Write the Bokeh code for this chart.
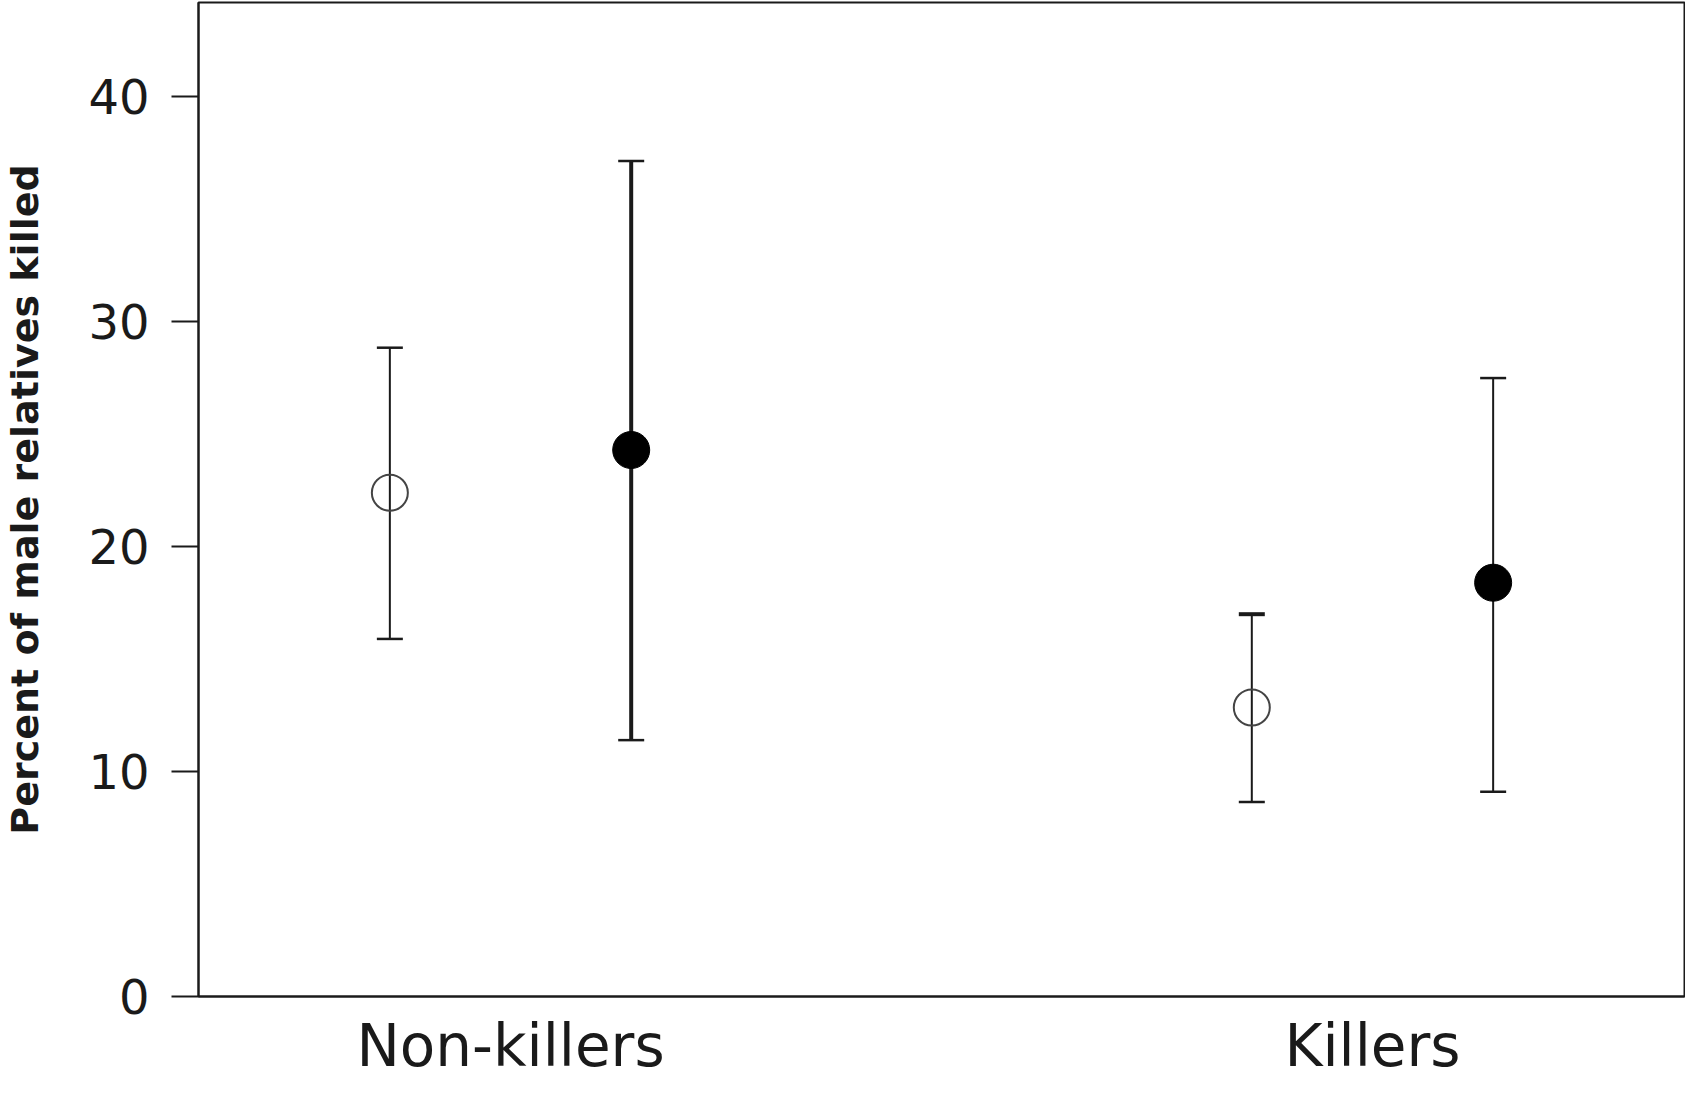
import numpy as np
from bokeh.plotting import figure
from bokeh.models import Range1d, FixedTicker, ColumnDataSource
from bokeh.embed import file_html
from bokeh.resources import INLINE

# ---- data ----
categories = ["Non-killers", "Killers"]
open_mean = [22.4, 12.85]
open_lower = [15.9, 8.65]
open_upper = [28.85, 17.0]
filled_mean = [24.3, 18.4]
filled_lower = [11.4, 9.1]
filled_upper = [37.15, 27.5]
y_ticks = [0, 10, 20, 30, 40]

# ---- styles ----
FONT = "DejaVu Sans"
INK = "#1a1a1a"
offset = 0.14
open_stem_w = [2, 2]
filled_stem_w = [4, 2]
open_upcap_w = [2.5, 4]
filled_upcap_w = [2.5, 2.5]

idx = np.arange(len(categories))
open_src = ColumnDataSource(dict(
    x=idx - offset, mean=open_mean, lo=open_lower, hi=open_upper,
    sw=open_stem_w, cw=open_upcap_w))
filled_src = ColumnDataSource(dict(
    x=idx + offset, mean=filled_mean, lo=filled_lower, hi=filled_upper,
    sw=filled_stem_w, cw=filled_upcap_w))

p = figure(width=1685, height=1082,
           x_range=Range1d(-0.362, 1.362), y_range=Range1d(0, 44.2),
           output_backend="svg", toolbar_location=None,
           min_border_left=185, min_border_right=1,
           min_border_top=2, min_border_bottom=68)

p.xgrid.grid_line_color = None
p.ygrid.grid_line_color = None
p.outline_line_color = INK
p.outline_line_width = 2
p.background_fill_color = "white"
p.border_fill_color = "white"

for src in (open_src, filled_src):
    p.segment(x0="x", y0="lo", x1="x", y1="hi", source=src,
              line_color=INK, line_width="sw")
    p.scatter(x="x", y="hi", source=src, marker="dash", size=26,
              line_color=INK, line_width="cw")
    p.scatter(x="x", y="lo", source=src, marker="dash", size=26,
              line_color=INK, line_width=2.5)

p.scatter(x="x", y="mean", source=open_src, marker="circle", size=36,
          fill_color=None, line_color="#444444", line_width=2)
p.scatter(x="x", y="mean", source=filled_src, marker="circle", size=37,
          fill_color="black", line_color="black", line_width=1)

# y axis
ya = p.yaxis[0]
ya.ticker = FixedTicker(ticks=y_ticks)
ya.minor_tick_line_color = None
ya.major_tick_in = 0
ya.major_tick_out = 27
ya.major_tick_line_width = 2
ya.major_tick_line_color = INK
ya.axis_line_width = 2
ya.axis_line_color = INK
ya.major_label_standoff = 22
ya.major_label_text_font = FONT
ya.major_label_text_font_size = "48px"
ya.major_label_text_color = INK
ya.axis_label = "Percent of male relatives killed"
ya.axis_label_text_font = FONT
ya.axis_label_text_font_style = "bold"
ya.axis_label_text_font_size = "38px"
ya.axis_label_text_color = INK
ya.axis_label_standoff = 38

# x axis
xa = p.xaxis[0]
xa.ticker = FixedTicker(ticks=list(idx))
xa.major_label_overrides = {int(i): c for i, c in zip(idx, categories)}
xa.minor_tick_line_color = None
xa.major_tick_line_color = None
xa.major_tick_in = 0
xa.major_tick_out = 0
xa.axis_line_width = 2
xa.axis_line_color = INK
xa.major_label_standoff = 15
xa.major_label_text_font = FONT
xa.major_label_text_font_size = "58px"
xa.major_label_text_color = INK

open("out.html", "w").write(file_html(p, INLINE))
